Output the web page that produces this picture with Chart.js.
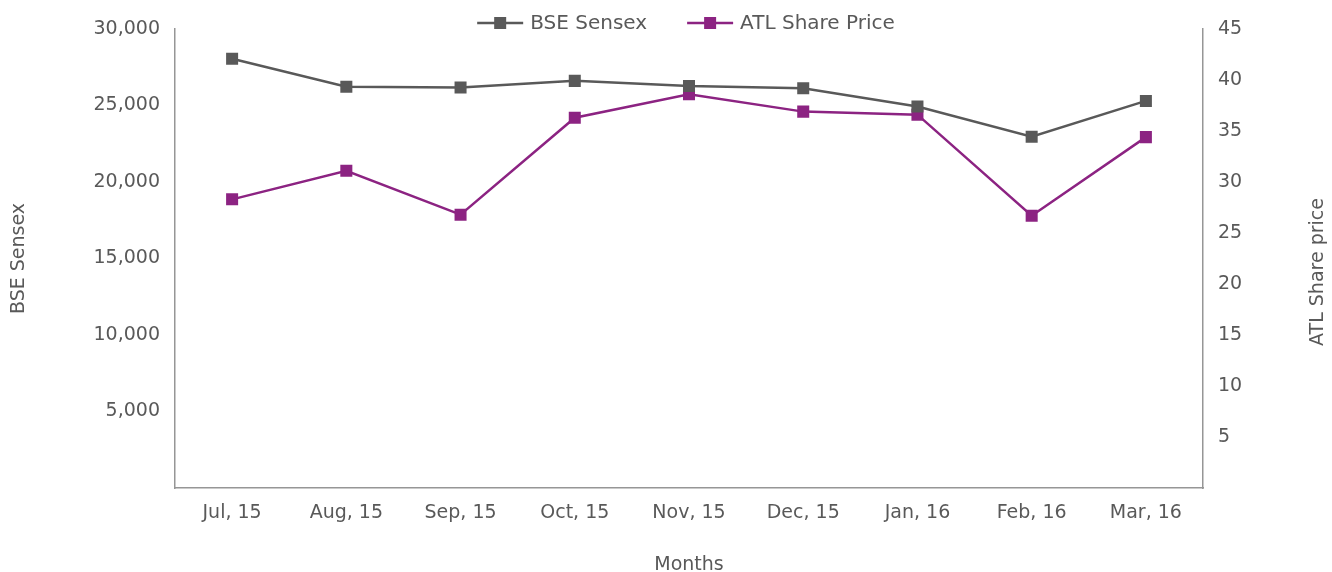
<!DOCTYPE html>
<html>
<head>
<meta charset="utf-8">
<script src="https://cdn.jsdelivr.net/npm/chart.js@4"></script>
<style>
  html, body { margin: 0; padding: 0; background: #fff; }
  #wrap { width: 1332px; height: 572px; }
</style>
</head>
<body>
<div id="wrap"><canvas id="trendChart"></canvas></div>
<script>
const C_GREY = 'rgb(89, 89, 89)';
const C_PURPLE = 'rgb(140, 35, 130)';
const C_TEXT = 'rgb(89, 89, 89)';
const C_AXIS = 'rgb(150, 150, 150)';
const FONT = 'DejaVu Sans';

const months = ['Jul, 15', 'Aug, 15', 'Sep, 15', 'Oct, 15', 'Nov, 15', 'Dec, 15', 'Jan, 16', 'Feb, 16', 'Mar, 16'];
const sensex = [28050, 26220, 26170, 26610, 26280, 26120, 24930, 22960, 25300];
const atlPrice = [28.3, 31.1, 26.8, 36.3, 38.6, 36.9, 36.6, 26.7, 34.4];
const rightTitle = 'ATL Share price';

// legend drawn by hand so it can sit over the top of the plot like the original
const lineLegend = {
    id: 'lineLegend',
    afterDraw(chart) {
        const ctx = chart.ctx;
        const y = 23;
        ctx.save();
        ctx.font = '20px "' + FONT + '"';
        ctx.textBaseline = 'middle';
        const items = chart.data.datasets.map(ds => ({
            ds: ds,
            w: 46 + 7 + ctx.measureText(ds.label).width
        }));
        const gap = 40;
        const total = items.reduce((s, it) => s + it.w, 0) + gap * (items.length - 1);
        let x = (chart.chartArea.left + chart.chartArea.right) / 2 - total / 2 - 3;
        items.forEach(it => {
            ctx.strokeStyle = it.ds.borderColor;
            ctx.lineWidth = 2.5;
            ctx.beginPath();
            ctx.moveTo(x, y);
            ctx.lineTo(x + 46, y);
            ctx.stroke();
            ctx.fillStyle = it.ds.borderColor;
            ctx.fillRect(x + 17, y - 6, 12, 12);
            ctx.fillStyle = C_TEXT;
            ctx.fillText(it.ds.label, x + 53, y + 1);
            x += it.w + gap;
        });

        // right axis title reads bottom-to-top in the original
        ctx.translate(1318, 272);
        ctx.rotate(-Math.PI / 2);
        ctx.font = '19px "' + FONT + '"';
        ctx.textAlign = 'center';
        ctx.fillText(rightTitle, 0, 0);
        ctx.restore();
    }
};

Chart.defaults.font.family = FONT;
Chart.defaults.font.size = 19;
Chart.defaults.color = C_TEXT;

const trendChart = new Chart(
        document.getElementById('trendChart'),
        {
            type: 'line',
            data: {
                labels: months,
                datasets: [
                    {
                        label: 'BSE Sensex',
                        data: sensex,
                        yAxisID: 'y',
                        borderColor: C_GREY,
                        backgroundColor: C_GREY,
                        borderWidth: 2.5,
                        pointStyle: 'rect',
                        pointRadius: 8.5,
                        pointBorderWidth: 0,
                        tension: 0,
                    },
                    {
                        label: 'ATL Share Price',
                        data: atlPrice,
                        yAxisID: 'y1',
                        borderColor: C_PURPLE,
                        backgroundColor: C_PURPLE,
                        borderWidth: 2.5,
                        pointStyle: 'rect',
                        pointRadius: 8.5,
                        pointBorderWidth: 0,
                        tension: 0,
                    }
                ]
            },
            options: {
                animation: false,
                responsive: true,
                maintainAspectRatio: false,
                layout: { padding: { top: 29, left: 0, right: 0, bottom: 0 } },
                plugins: {
                    legend: { display: false },
                    tooltip: { enabled: false }
                },
                scales: {
                    x: {
                        offset: true,
                        grid: { display: false, drawTicks: false },
                        border: { display: true, color: C_AXIS, width: 1.5 },
                        ticks: { padding: 14, maxRotation: 0 },
                        title: {
                            display: true,
                            text: 'Months',
                            font: { size: 19, lineHeight: 1 },
                            padding: { top: 0, bottom: -3 }
                        },
                        afterFit: (scale) => { scale.height = 84; }
                    },
                    y: {
                        position: 'left',
                        min: 0,
                        max: 30000,
                        grid: { display: false, drawTicks: false },
                        border: { display: true, color: C_AXIS, width: 1.5 },
                        ticks: {
                            stepSize: 5000,
                            padding: 15,
                            callback: (v) => v === 0 ? '' : v.toLocaleString('en-US')
                        },
                        title: {
                            display: true,
                            text: 'BSE Sensex',
                            font: { size: 19 },
                            padding: { top: 8, bottom: 0 }
                        },
                        afterFit: (scale) => { scale.width = 175; }
                    },
                    y1: {
                        position: 'right',
                        min: 0,
                        max: 45,
                        grid: { display: false, drawTicks: false },
                        border: { display: true, color: C_AXIS, width: 1.5 },
                        ticks: {
                            stepSize: 5,
                            padding: 15,
                            callback: (v) => v === 0 ? '' : v
                        },
                        title: { display: false },
                        afterFit: (scale) => { scale.width = 129; }
                    }
                }
            },
            plugins: [lineLegend]
        });
</script>
</body>
</html>
